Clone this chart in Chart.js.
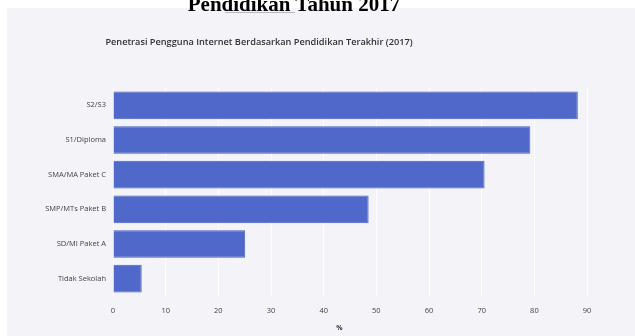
<!DOCTYPE html>
<html>
<head>
<meta charset="utf-8">
<script src="https://cdn.jsdelivr.net/npm/chart.js@4"></script>
<style>
  html, body { margin: 0; padding: 0; background: #fff; }
  body { width: 635px; height: 336px; position: relative; overflow: hidden; }
  .panel { position: absolute; left: 7px; top: 8px; right: 0; bottom: 0; background: #f3f3f8; }
  .heading { position: absolute; left: 0; width: 588px; top: -6px; text-align: center;
             font: bold 21px 'Liberation Serif', 'Times New Roman', serif; line-height: 21px; color: #000; }
  .rule { position: absolute; left: 225px; top: 12px; width: 70px; height: 1px; background: #b8b8c2; }
  #chart { position: absolute; left: 0; top: 0; }
</style>
</head>
<body>
<div class="panel"></div>
<canvas id="chart" width="635" height="336"></canvas>
<div class="heading">Pendidikan Tahun 2017</div>
<div class="rule"></div>
<script>
const categories = ['S2/S3', 'S1/Diploma', 'SMA/MA Paket C', 'SMP/MTs Paket B', 'SD/MI Paket A', 'Tidak Sekolah'];
const penetration = [88.24, 79.23, 70.54, 48.53, 25.10, 5.45];
const xTicks = [0, 10, 20, 30, 40, 50, 60, 70, 80, 90];
const chartTitle = 'Penetrasi Pengguna Internet Berdasarkan Pendidikan Terakhir (2017)';
const axisTitle = '%';

// title and the x axis unit are placed by hand, like the source plot
const labelsPlugin = {
    id: 'labelsPlugin',
    afterDraw(chart) {
        const { ctx } = chart;
        const x = chart.scales.x;
        ctx.save();
        ctx.fillStyle = '#333';
        ctx.textAlign = 'center';
        ctx.textBaseline = 'middle';
        ctx.font = '600 9.2px "Open Sans", sans-serif';
        ctx.fillText(chartTitle, 259, 42);
        ctx.font = 'bold 7px "Open Sans", sans-serif';
        ctx.fillText(axisTitle, x.getPixelForValue(43), 328);
        ctx.restore();
    }
};

new Chart(document.getElementById('chart'), {
    type: 'bar',
    data: {
        labels: categories,
        datasets: [{
            data: penetration,
            backgroundColor: '#5068c9',
            borderColor: '#4a60bd',
            borderWidth: 1,
            categoryPercentage: 0.8,
            barPercentage: 1.0
        }]
    },
    options: {
        indexAxis: 'y',
        responsive: false,
        animation: false,
        layout: { padding: { top: 88, right: 0, bottom: 0, left: 0 } },
        scales: {
            x: {
                min: 0,
                max: 99.1,
                afterBuildTicks: s => { s.ticks = xTicks.map(v => ({ value: v })); },
                afterFit: s => { s.height = 40; },
                grid: { color: 'rgba(255,255,255,0.9)', drawTicks: false },
                border: { display: false },
                ticks: { color: '#444', padding: 10, font: { size: 7.5, family: 'Open Sans' } }
            },
            y: {
                afterFit: s => { s.width = 113; },
                grid: { display: false, drawTicks: false },
                border: { display: false },
                ticks: { color: '#444', padding: 7, font: { size: 7.5, family: 'Open Sans' } }
            }
        },
        plugins: {
            legend: { display: false },
            tooltip: { enabled: false }
        }
    },
    plugins: [labelsPlugin]
});
</script>
</body>
</html>
